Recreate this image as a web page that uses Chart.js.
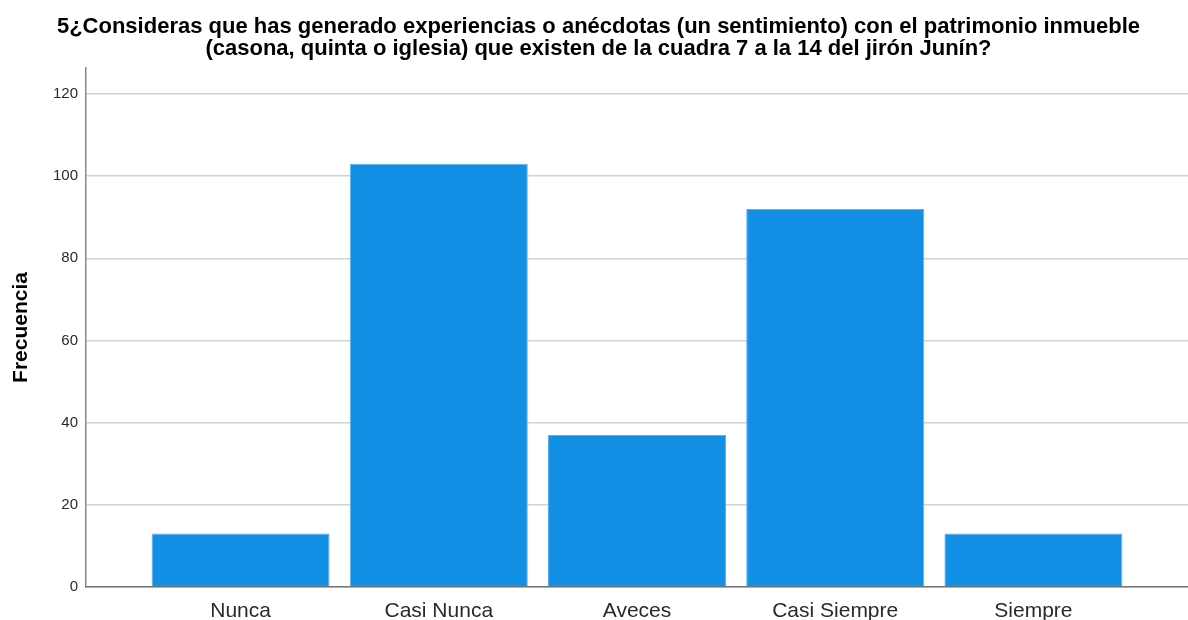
<!DOCTYPE html>
<html>
<head>
<meta charset="utf-8">
<script src="https://cdn.jsdelivr.net/npm/chart.js@4/dist/chart.umd.min.js"></script>
<style>
  html, body { margin: 0; padding: 0; background: #fff; }
  #wrap { width: 1188px; height: 620px; }
</style>
</head>
<body>
<div id="wrap"><canvas id="FreqChart" width="1188" height="620"></canvas></div>
<script>
var categories = ['Nunca', 'Casi Nunca', 'Aveces', 'Casi Siempre', 'Siempre'];
var frequencies = [13, 103, 37, 92, 13];
var yTicks = [0, 20, 40, 60, 80, 100, 120];
var titleLines = [
    '5\u00bfConsideras que has generado experiencias o an\u00e9cdotas (un sentimiento) con el patrimonio inmueble',
    '(casona, quinta o iglesia) que existen de la cuadra 7 a la 14 del jir\u00f3n Jun\u00edn?'
];

var points = categories.map(function (c, i) {
    return { x: i, y: frequencies[i] };
});

var myBarChart = new Chart(document.getElementById('FreqChart'), {
    type: 'bar',
    data: {
        datasets: [{
            data: points,
            backgroundColor: 'rgb(17, 144, 230)',
            borderColor: 'rgb(90, 175, 238)',
            borderWidth: 1,
            categoryPercentage: 1,
            barPercentage: 0.898
        }]
    },
    options: {
        responsive: false,
        animation: false,
        layout: { padding: { top: 16, left: 9, right: 0, bottom: 0 } },
        plugins: {
            legend: { display: false },
            tooltip: { enabled: false },
            title: {
                display: true,
                text: titleLines,
                color: '#000',
                font: { family: 'Liberation Sans', size: 22, weight: 'bold', lineHeight: 1.0 },
                padding: { top: 0, bottom: 8 }
            }
        },
        scales: {
            x: {
                type: 'linear',
                offset: false,
                min: -0.78,
                max: 4.78,
                grid: { display: false },
                border: { display: true, color: '#777', width: 1.5 },
                ticks: {
                    stepSize: 1,
                    includeBounds: false,
                    autoSkip: false,
                    maxRotation: 0,
                    padding: 4,
                    color: '#2a2a2a',
                    font: { family: 'Liberation Sans', size: 21 },
                    callback: function (value) {
                        return categories[value] !== undefined ? categories[value] : '';
                    }
                },
                afterFit: function (axis) { axis.height = 33; }
            },
            y: {
                min: 0,
                max: 126.3,
                afterBuildTicks: function (axis) {
                    axis.ticks = yTicks.map(function (v) { return { value: v }; });
                },
                grid: { color: '#d2d2d2', lineWidth: 1.5, drawTicks: false },
                border: { display: true, color: '#888', width: 1.5 },
                ticks: {
                    padding: 8,
                    color: '#2a2a2a',
                    font: { family: 'Liberation Sans', size: 15 }
                },
                title: {
                    display: true,
                    text: 'Frecuencia',
                    color: '#000',
                    font: { family: 'Liberation Sans', size: 21, weight: 'bold' },
                    padding: { top: 0, bottom: 0 }
                },
                afterFit: function (axis) { axis.width = 77; }
            }
        }
    }
});
</script>
</body>
</html>
